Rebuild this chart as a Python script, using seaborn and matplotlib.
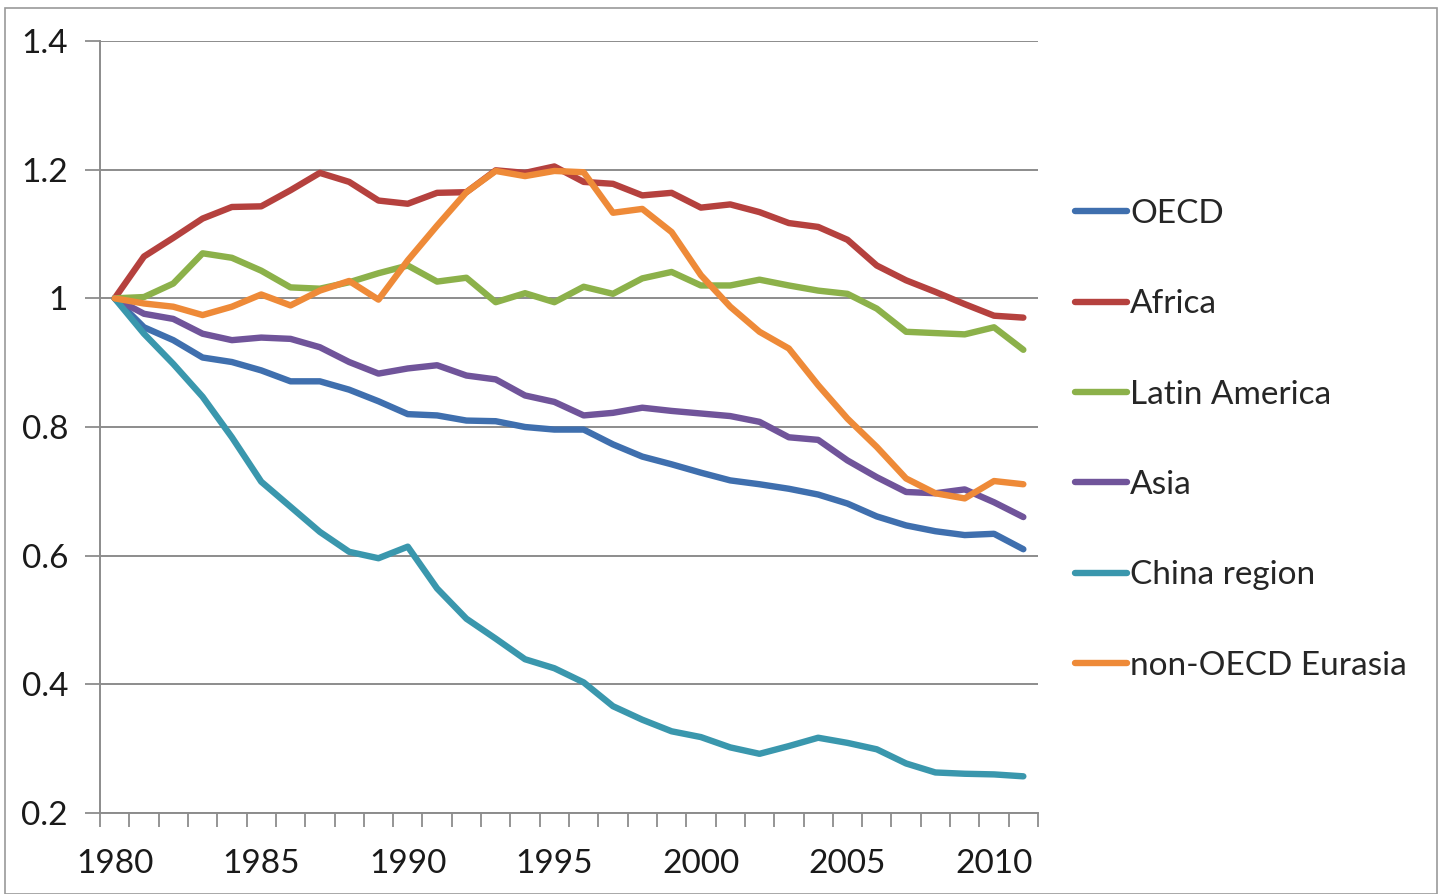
import matplotlib
matplotlib.use("Agg")
import matplotlib.pyplot as plt
import matplotlib.patches as mpatches
from matplotlib.ticker import FixedLocator, FuncFormatter
import numpy as np
import pandas as pd
import seaborn as sns

years = list(range(1980, 2012))

oecd = [1.000, 0.955, 0.935, 0.908, 0.901, 0.888, 0.871, 0.871, 0.858, 0.840,
        0.820, 0.818, 0.810, 0.809, 0.800, 0.796, 0.796, 0.773, 0.754, 0.742,
        0.729, 0.717, 0.711, 0.704, 0.695, 0.681, 0.661, 0.647, 0.638, 0.632,
        0.634, 0.610]
africa = [1.000, 1.065, 1.094, 1.124, 1.142, 1.143, 1.168, 1.195, 1.181, 1.152,
          1.147, 1.164, 1.165, 1.199, 1.195, 1.205, 1.181, 1.178, 1.160, 1.164,
          1.141, 1.146, 1.134, 1.117, 1.111, 1.091, 1.051, 1.028, 1.010, 0.991,
          0.973, 0.970]
latin_america = [1.000, 1.002, 1.023, 1.070, 1.063, 1.043, 1.017, 1.015, 1.025, 1.039,
                 1.051, 1.026, 1.032, 0.994, 1.008, 0.994, 1.018, 1.007, 1.031, 1.041,
                 1.020, 1.020, 1.029, 1.020, 1.012, 1.007, 0.984, 0.948, 0.946, 0.944,
                 0.955, 0.920]
asia = [1.000, 0.976, 0.968, 0.945, 0.935, 0.939, 0.937, 0.924, 0.901, 0.883,
        0.891, 0.896, 0.880, 0.874, 0.849, 0.839, 0.818, 0.822, 0.830, 0.825,
        0.821, 0.817, 0.808, 0.784, 0.780, 0.748, 0.722, 0.699, 0.697, 0.703,
        0.683, 0.660]
china_region = [1.000, 0.945, 0.898, 0.847, 0.784, 0.715, 0.676, 0.637, 0.606, 0.596,
                0.614, 0.549, 0.502, 0.471, 0.439, 0.425, 0.403, 0.366, 0.345, 0.327,
                0.318, 0.302, 0.292, 0.304, 0.317, 0.309, 0.299, 0.277, 0.263, 0.261,
                0.260, 0.257]
non_oecd_eurasia = [1.000, 0.992, 0.987, 0.974, 0.987, 1.006, 0.989, 1.012, 1.027, 0.998,
                    1.059, 1.113, 1.165, 1.198, 1.190, 1.198, 1.196, 1.133, 1.139, 1.103,
                    1.036, 0.987, 0.948, 0.922, 0.865, 0.813, 0.769, 0.720, 0.697, 0.689,
                    0.716, 0.711]

regions = ["OECD", "Africa", "Latin America", "Asia", "China region", "non-OECD Eurasia"]
series = [oecd, africa, latin_america, asia, china_region, non_oecd_eurasia]
colors = ["#3F6FAE", "#B5413E", "#8CB14A", "#70549A", "#3A97AD", "#EE8A38"]

df = pd.concat(
    [pd.DataFrame({"Year": years, "Value": vals, "Region": name})
     for name, vals in zip(regions, series)],
    ignore_index=True,
)

sns.set_theme(style="white")
plt.rcParams["font.family"] = ["Lato", "DejaVu Sans"]

fig = plt.figure(figsize=(14.41, 8.94), dpi=100)
ax = fig.add_axes([100 / 1441, 1 - 813 / 894, 938 / 1441, 772 / 894])

sns.lineplot(data=df, x="Year", y="Value", hue="Region", hue_order=regions,
             palette=colors, linewidth=4.6, ax=ax, legend=True, zorder=3)

grid_color = "#8c8c8c"
ax.set_xlim(years[0] - 0.5, years[-1] + 0.5)
ax.set_ylim(0.2, 1.4)
ax.set_yticks([0.2, 0.4, 0.6, 0.8, 1.0, 1.2, 1.4])
ax.yaxis.set_major_formatter(FuncFormatter(lambda v, p: f"{v:g}"))
ax.grid(axis="y", color=grid_color, linewidth=1.4, zorder=0)
ax.grid(axis="x", visible=False)

ax.set_xticks([1980, 1985, 1990, 1995, 2000, 2005, 2010])
ax.xaxis.set_minor_locator(FixedLocator(np.arange(years[0] - 0.5, years[-1] + 1.0, 1.0)))
ax.tick_params(axis="x", which="major", bottom=True, length=0, labelsize=24, pad=26,
               colors="#1a1a1a")
ax.tick_params(axis="x", which="minor", bottom=True, length=10, width=1.3,
               color=grid_color, direction="out")
ax.tick_params(axis="y", which="major", left=True, length=11, width=1.3, color=grid_color,
               direction="out", labelsize=24, pad=12, labelcolor="#1a1a1a")
ax.set_xlabel("")
ax.set_ylabel("")

for side in ["top", "right"]:
    ax.spines[side].set_visible(False)
for side in ["left", "bottom"]:
    ax.spines[side].set_color(grid_color)
    ax.spines[side].set_linewidth(1.4)

handles, labels = ax.get_legend_handles_labels()
ax.legend(handles, labels, loc="upper left", bbox_to_anchor=(1075 / 1441, 1 - 199 / 894),
          bbox_transform=fig.transFigure, frameon=False, fontsize=24,
          handlelength=1.55, handletextpad=0.1, labelspacing=1.81, borderaxespad=0,
          borderpad=0)

# outer chart frame
fig.patches.append(mpatches.Rectangle((5 / 1441, 0), 1432 / 1441, 1 - 8 / 894,
                                      transform=fig.transFigure, fill=False,
                                      edgecolor="#9a9a9a", linewidth=1.2))

fig.savefig("out.png", dpi=100)
